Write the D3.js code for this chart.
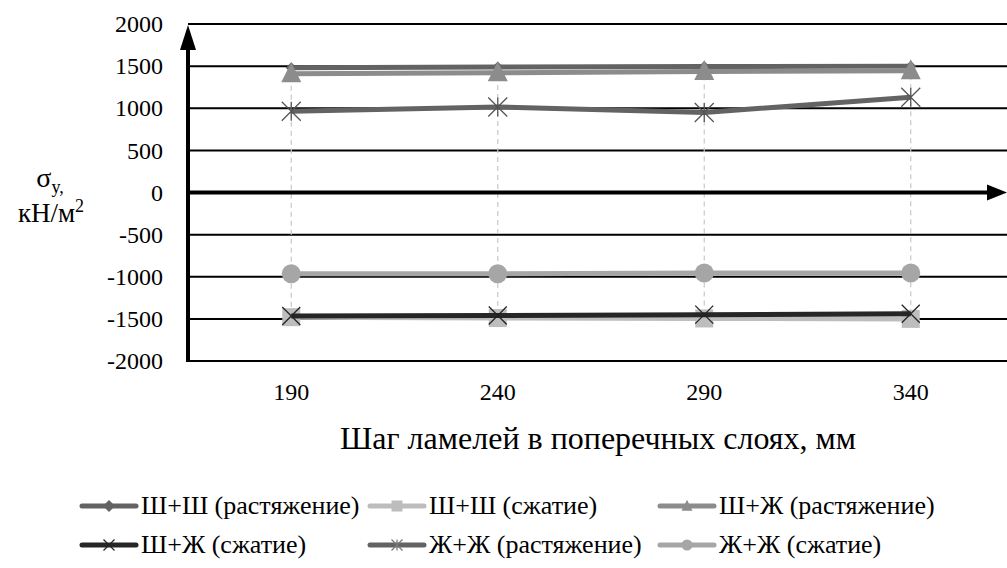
<!DOCTYPE html>
<html>
<head>
<meta charset="utf-8">
<script src="https://cdn.jsdelivr.net/npm/d3@7"></script>
<style>
    body { margin: 0; background: #fff; }
</style>
</head>
<body>
<div id="chart"></div>
<script>
// categories (step of lamellas, mm)
const steps = ["190", "240", "290", "340"];
const yTicks = [-2000, -1500, -1000, -500, 0, 500, 1000, 1500, 2000];

const seriesNames = [
    "Ш+Ш (растяжение)", "Ш+Ш (сжатие)", "Ш+Ж (растяжение)",
    "Ш+Ж (сжатие)", "Ж+Ж (растяжение)", "Ж+Ж (сжатие)"
];
const shShTension     = [1480, 1490, 1495, 1500];
const shShCompression = [-1480, -1490, -1495, -1500];
const shZhTension     = [1410, 1420, 1435, 1445];
const shZhCompression = [-1465, -1460, -1450, -1440];
const zhZhTension     = [965, 1015, 950, 1130];
const zhZhCompression = [-965, -965, -955, -955];

const seriesValues = [shShTension, shShCompression, shZhTension, shZhCompression, zhZhTension, zhZhCompression];

// look of each series
const styles = [
    { color: "#636363", width: 5, marker: "diamond", size: 11 },
    { color: "#bdbdbd", width: 5, marker: "square", size: 18 },
    { color: "#8c8c8c", width: 5, marker: "triangle", size: 20 },
    { color: "#262626", width: 5, marker: "x", size: 18 },
    { color: "#636363", width: 5, marker: "star", size: 19 },
    { color: "#a6a6a6", width: 5, marker: "circle", size: 19 }
];

const FONT = "'Liberation Serif', 'Times New Roman', serif";
const W = 1007, H = 568;
const svg = d3.select("#chart").append("svg")
    .attr("width", W).attr("height", H)
    .attr("font-family", FONT);

const xScale = d3.scaleBand().domain(steps).range([188, 1014]);
const yScale = d3.scaleLinear().domain([-2000, 2000]).range([361, 24]);
const cx = (d) => xScale(d) + xScale.bandwidth() / 2;

// marker path builder
function markerPath(type, s) {
    const h = s / 2;
    if (type === "diamond") return `M0,${-h}L${h},0L0,${h}L${-h},0Z`;
    if (type === "square") return `M${-h},${-h}H${h}V${h}H${-h}Z`;
    if (type === "triangle") return `M0,${-h * 1.15}L${h},${h * 0.85}L${-h},${h * 0.85}Z`;
    if (type === "circle") return d3.symbol(d3.symbolCircle, Math.PI * h * h)();
    if (type === "x") return `M${-h},${-h}L${h},${h}M${-h},${h}L${h},${-h}`;
    if (type === "star") return `M${-h},${-h}L${h},${h}M${-h},${h}L${h},${-h}M0,${-h}V${h}`;
}
const stroked = (t) => t === "x" || t === "star";

// gridlines
svg.append("g").selectAll("line")
    .data(yTicks.filter(d => d !== 0))
    .enter().append("line")
    .attr("x1", 188).attr("x2", W)
    .attr("y1", d => yScale(d)).attr("y2", d => yScale(d))
    .attr("stroke", "#000").attr("stroke-width", 2);

// drop lines
svg.append("g").selectAll("line")
    .data(steps)
    .enter().append("line")
    .attr("x1", d => cx(d)).attr("x2", d => cx(d))
    .attr("y1", (d, i) => yScale(d3.max(seriesValues, s => s[i])))
    .attr("y2", (d, i) => yScale(d3.min(seriesValues, s => s[i])))
    .attr("stroke", "#c8c8c8").attr("stroke-width", 1.2)
    .attr("stroke-dasharray", "5,4");

// y tick labels
svg.append("g")
    .attr("transform", "translate(188,0)")
    .call(d3.axisLeft(yScale).tickValues(yTicks).tickSize(0).tickPadding(25).tickFormat(d => String(d)))
    .attr("font-family", FONT)
    .attr("font-size", 24)
    .call(g => g.select(".domain").remove())
    .selectAll("text")
    .attr("fill", "#000");

// x tick labels
svg.append("g")
    .attr("transform", "translate(0,361)")
    .call(d3.axisBottom(xScale).tickSize(0))
    .attr("font-family", FONT)
    .attr("font-size", 24)
    .call(g => g.select(".domain").remove())
    .selectAll("text")
    .attr("dy", null)
    .attr("y", 39)
    .attr("fill", "#000");

// arrows for the axes
svg.append("line")
    .attr("x1", 188).attr("x2", 188)
    .attr("y1", 362).attr("y2", 48)
    .attr("stroke", "#000").attr("stroke-width", 4);
svg.append("path")
    .attr("d", `M188,${yScale(2000) + 1}L196,50L180,50Z`)
    .attr("fill", "#000");
svg.append("line")
    .attr("x1", 186).attr("x2", 988)
    .attr("y1", yScale(0)).attr("y2", yScale(0))
    .attr("stroke", "#000").attr("stroke-width", 4);
svg.append("path")
    .attr("d", `M${W},${yScale(0)}L987,${yScale(0) - 8}L987,${yScale(0) + 8}Z`)
    .attr("fill", "#000");

// series
const line = d3.line().x(d => cx(d.step)).y(d => yScale(d.value));

seriesValues.forEach(function (vals, si) {
    const st = styles[si];
    const pts = steps.map((s, i) => ({ step: s, value: vals[i] }));
    const g = svg.append("g");
    g.append("path")
        .datum(pts)
        .attr("d", line)
        .attr("fill", "none")
        .attr("stroke", st.color)
        .attr("stroke-width", st.width)
        .attr("stroke-linejoin", "round");
    g.selectAll("path.marker")
        .data(pts)
        .enter().append("path")
        .attr("class", "marker")
        .attr("transform", d => `translate(${cx(d.step)},${yScale(d.value)})`)
        .attr("d", markerPath(st.marker, st.size))
        .attr("fill", stroked(st.marker) ? "none" : st.color)
        .attr("stroke", stroked(st.marker) ? (st.marker === "x" ? "#222" : "#555") : "none")
        .attr("stroke-width", 1.3);
});

// y axis title
const yt = svg.append("text").attr("x", 50).attr("y", 187).attr("text-anchor", "middle").attr("font-size", 28);
yt.append("tspan").text("σ");
yt.append("tspan").attr("dy", 6).attr("font-size", 18).text("y,");
const yt2 = svg.append("text").attr("x", 51).attr("y", 222).attr("text-anchor", "middle").attr("font-size", 27);
yt2.append("tspan").text("кН/м");
yt2.append("tspan").attr("dy", -10).attr("font-size", 18).text("2");

// x axis title
svg.append("text")
    .attr("x", 598).attr("y", 449)
    .attr("text-anchor", "middle")
    .attr("font-size", 32)
    .text("Шаг ламелей в поперечных слоях, мм");

// legend
const legendX = [82, 370, 660], legendY = [506, 545];
const legend = svg.append("g");
seriesNames.forEach(function (name, i) {
    const st = styles[i];
    const lx = legendX[i % 3], ly = legendY[Math.floor(i / 3)];
    const item = legend.append("g").attr("transform", `translate(${lx},${ly})`);
    item.append("line")
        .attr("x1", 0).attr("x2", 54)
        .attr("stroke", st.color).attr("stroke-width", 5).attr("stroke-linecap", "round");
    item.append("path")
        .attr("transform", "translate(27,0)")
        .attr("d", markerPath(st.marker, st.marker === "diamond" ? 12 : 11))
        .attr("fill", stroked(st.marker) ? "none" : st.color)
        .attr("stroke", stroked(st.marker) ? (st.marker === "x" ? "#222" : "#777") : "none")
        .attr("stroke-width", 1.2);
    item.append("text")
        .attr("x", 59).attr("y", 8)
        .attr("font-size", 26)
        .text(name);
});
</script>
</body>
</html>
